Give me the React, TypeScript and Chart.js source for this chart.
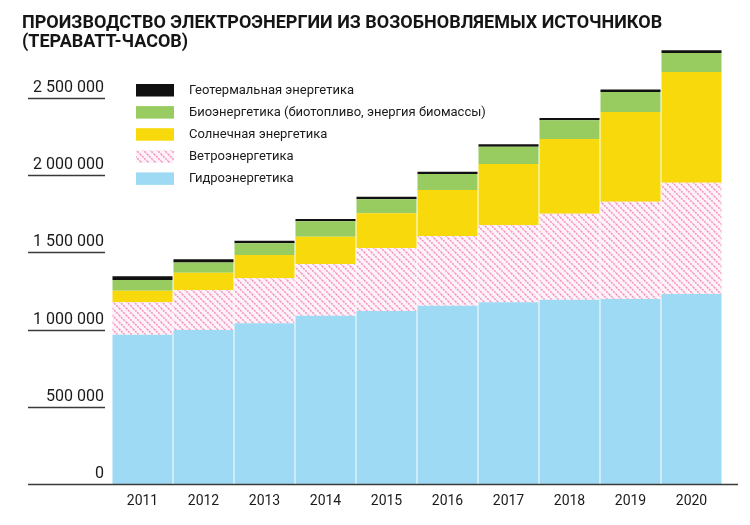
import React, { useEffect, useRef } from 'react';
import { Chart, registerables } from 'chart.js';

Chart.register(...registerables);

const titleLines = [
  'ПРОИЗВОДСТВО ЭЛЕКТРОЭНЕРГИИ ИЗ ВОЗОБНОВЛЯЕМЫХ ИСТОЧНИКОВ',
  '(ТЕРАВАТТ-ЧАСОВ)',
];
const years = ['2011', '2012', '2013', '2014', '2015', '2016', '2017', '2018', '2019', '2020'];
const hydro = [966000, 998000, 1041000, 1089000, 1121000, 1155000, 1177000, 1194000, 1198000, 1231000];
const wind = [211000, 259000, 291000, 336000, 408000, 451000, 500000, 556000, 630000, 720000];
const solar = [75000, 112000, 151000, 177000, 224000, 298000, 395000, 485000, 582000, 718000];
const bio = [69000, 65000, 76000, 100000, 91000, 104000, 112000, 121000, 129000, 123000];
const geo = [24000, 22000, 17000, 15000, 17000, 15000, 16000, 15000, 16000, 17000];
const yTickValues = [0, 500000, 1000000, 1500000, 2000000, 2500000];
const seriesNames = [
  'Гидроэнергетика',
  'Ветроэнергетика',
  'Солнечная энергетика',
  'Биоэнергетика (биотопливо, энергия биомассы)',
  'Геотермальная энергетика',
];

const FONT = 'Roboto, "Noto Sans", sans-serif';

function makeWindPattern(): CanvasPattern | string {
  const c = document.createElement('canvas');
  const s = 7;
  c.width = s;
  c.height = s;
  const g = c.getContext('2d');
  if (!g) return '#f9c6de';
  g.fillStyle = '#fdf2f7';
  g.fillRect(0, 0, s, s);
  g.strokeStyle = 'rgba(243,132,186,0.85)';
  g.lineWidth = 1.6;
  g.setLineDash([2, 1]);
  for (let k = -1; k <= 1; k++) {
    g.beginPath();
    g.moveTo(k * s, 0);
    g.lineTo(k * s + s, s);
    g.stroke();
  }
  const p = g.createPattern(c, 'repeat');
  return p || '#f9c6de';
}

function fmt(v: number): string {
  return String(v).replace(/\B(?=(\d{3})+(?!\d))/g, ' ');
}

const decorPlugin = {
  id: 'decor',
  afterDraw(chart: any) {
    const ctx = chart.ctx as CanvasRenderingContext2D;
    const y = chart.scales.y;
    ctx.save();
    // title
    ctx.fillStyle = '#151515';
    ctx.font = `bold 18px ${FONT}`;
    ctx.textAlign = 'left';
    ctx.textBaseline = 'alphabetic';
    ctx.fillText(titleLines[0], 22, 28);
    ctx.fillText(titleLines[1], 22, 47);

    // tick underlines
    ctx.strokeStyle = '#3a3a3a';
    ctx.lineWidth = 1.6;
    y.ticks.forEach((t: any) => {
      const py = Math.round(y.getPixelForValue(t.value)) + 0.5;
      ctx.beginPath();
      ctx.moveTo(28, py);
      ctx.lineTo(t.value === 0 ? 738 : 105, py);
      ctx.stroke();
    });

    // legend
    const ds = chart.data.datasets;
    const x0 = 136;
    const top0 = 84;
    const step = 22.1;
    ctx.font = `13px ${FONT}`;
    ctx.textBaseline = 'middle';
    for (let i = ds.length - 1, r = 0; i >= 0; i--, r++) {
      const ty = top0 + r * step;
      ctx.fillStyle = ds[i].backgroundColor;
      ctx.fillRect(x0, ty, 38, 12.5);
      ctx.fillStyle = '#1a1a1a';
      ctx.fillText(ds[i].label, 189, ty + 6.5);
    }
    ctx.restore();
  },
};

export default function App() {
  const ref = useRef<HTMLCanvasElement>(null);
  useEffect(() => {
    if (!ref.current) return;
    const windFill = makeWindPattern();
    const colors = ['#9fdaf5', windFill, '#f8d90c', '#98cc60', '#111111'];
    const series = [hydro, wind, solar, bio, geo];
    const chart = new Chart(ref.current, {
      type: 'bar',
      data: {
        labels: years,
        datasets: series.map((d, i) => ({
          label: seriesNames[i],
          data: d,
          backgroundColor: colors[i] as any,
          borderWidth: 0,
          barPercentage: 0.984,
          categoryPercentage: 1,
        })),
      },
      options: {
        responsive: false,
        animation: false,
        layout: { padding: { top: 44, bottom: 10, left: 0, right: 28 } },
        plugins: {
          legend: { display: false },
          title: { display: false },
          tooltip: { enabled: false },
        },
        scales: {
          x: {
            stacked: true,
            grid: { display: false, drawTicks: false },
            border: { display: false },
            ticks: {
              padding: 9,
              color: '#1a1a1a',
              font: { family: FONT, size: 14 },
            },
            afterFit: (s: any) => {
              s.height = 31;
            },
          },
          y: {
            stacked: true,
            min: 0,
            max: 2850000,
            grid: { display: false, drawTicks: false },
            border: { display: false },
            afterBuildTicks: (s: any) => {
              s.ticks = yTickValues.map((v) => ({ value: v }));
            },
            afterFit: (s: any) => {
              s.width = 112;
            },
            ticks: {
              padding: 8,
              labelOffset: -10,
              color: '#1a1a1a',
              font: { family: FONT, size: 16 },
              callback: (v: any) => fmt(Number(v)),
            },
          },
        },
      },
      plugins: [decorPlugin],
    });
    return () => chart.destroy();
  }, []);
  return (
    <div style={{ position: 'fixed', left: 0, top: 0, width: 750, height: 525, background: '#fff' }}>
      <canvas ref={ref} width={750} height={525} style={{ display: 'block', width: 750, height: 525 }} />
    </div>
  );
}
